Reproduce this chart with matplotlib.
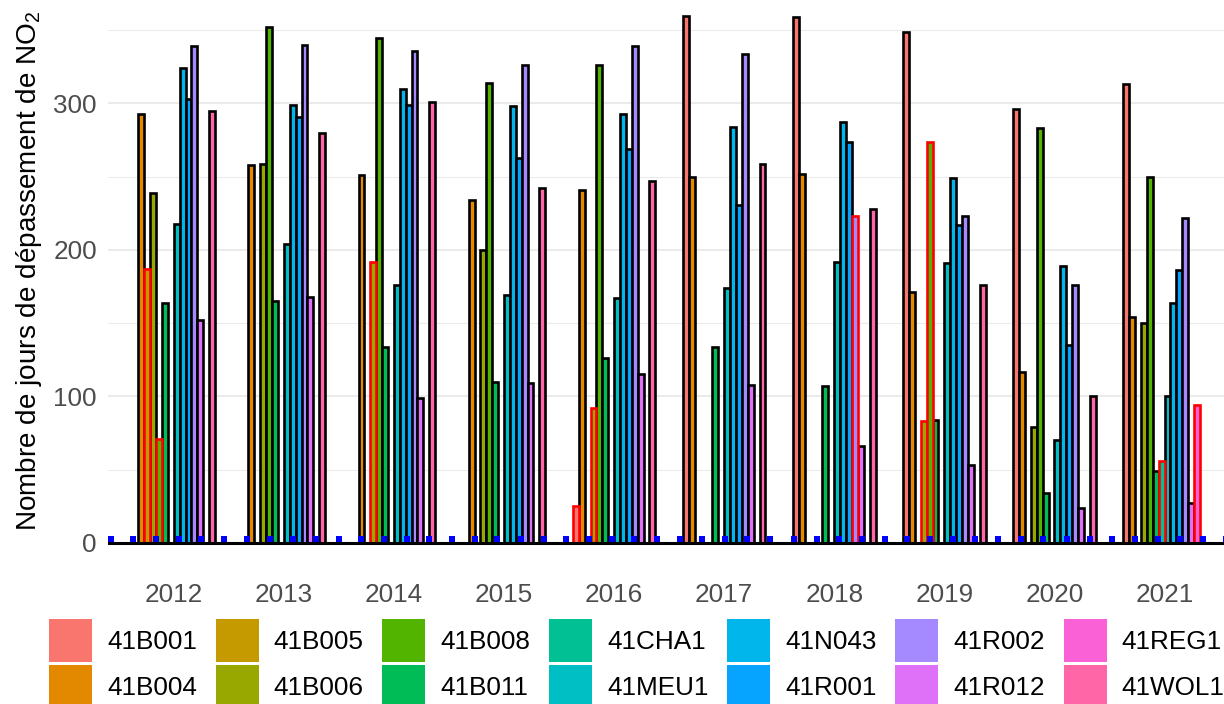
import matplotlib
matplotlib.use("Agg")
import matplotlib.pyplot as plt
from matplotlib.patches import Patch

plt.rcParams['font.family'] = ['Liberation Sans', 'DejaVu Sans']
plt.rcParams['mathtext.default'] = 'regular'

YEARS = [2012, 2013, 2014, 2015, 2016, 2017, 2018, 2019, 2020, 2021]
STATIONS = ['41B001', '41B004', '41B005', '41B006', '41B008', '41B011', '41CHA1',
            '41MEU1', '41N043', '41R001', '41R002', '41R012', '41REG1', '41WOL1']
# default ggplot hue palette for 14 groups
COLORS = ['#F8766D', '#E38900', '#C49A00', '#99A800', '#53B400', '#00BC56', '#00C094',
          '#00BFC4', '#00B6EB', '#06A4FF', '#A58AFF', '#DF70F8', '#FB61D7', '#FF66A8']

# days above the NO2 threshold, one value per year (None = no data)
b001 = [None, None, None, None, 25, 360, 359, 349, 296, 313]
b004 = [293, 258, 251, 234, 241, 250, 252, 171, 117, 154]
b005 = [187, None, None, None, None, None, None, None, None, None]
b006 = [239, 259, 192, 200, 92, None, None, 83, 79, 150]
b008 = [71, 352, 345, 314, 326, None, None, 274, 283, 250]
b011 = [164, 165, 134, 110, 126, 134, 107, 84, 34, 49]
cha1 = [None, None, None, None, None, None, None, None, None, 56]
meu1 = [218, 204, 176, 169, 167, 174, 192, 191, 70, 100]
n043 = [324, 299, 310, 298, 293, 284, 287, 249, 189, 164]
r001 = [303, 291, 299, 263, 269, 231, 274, 217, 135, 186]
r002 = [339, 340, 336, 326, 339, 334, 223, 223, 176, 222]
r012 = [152, 168, 99, 109, 115, 108, 66, 53, 24, 27]
reg1 = [None, None, None, None, None, None, None, None, None, 94]
wol1 = [295, 280, 301, 242, 247, 259, 228, 176, 100, None]
SERIES = [b001, b004, b005, b006, b008, b011, cha1, meu1, n043, r001, r002, r012, reg1, wol1]

# bars outlined in red
FLAGGED = [('41B005', 2012), ('41B008', 2012), ('41B006', 2014), ('41B001', 2016),
           ('41B006', 2016), ('41R002', 2018), ('41B006', 2019), ('41B008', 2019),
           ('41CHA1', 2021), ('41REG1', 2021)]

# blue markers along the baseline
DOT_X = [2011.43, 2011.63, 2011.84, 2012.05, 2012.25, 2012.46, 2012.67, 2012.87,
         2013.08, 2013.29, 2013.50, 2013.70, 2013.91, 2014.12, 2014.32, 2014.53,
         2014.74, 2014.94, 2015.15, 2015.36, 2015.56, 2015.77, 2015.98, 2016.18,
         2016.39, 2016.60, 2016.80, 2017.01, 2017.21, 2017.42, 2017.63, 2017.84,
         2018.04, 2018.25, 2018.46, 2018.66, 2018.87, 2019.08, 2019.28, 2019.49,
         2019.70, 2019.90, 2020.11, 2020.32, 2020.52, 2020.73, 2020.94, 2021.14,
         2021.35, 2021.56]
DOT_Y = 3

fig = plt.figure(figsize=(12.24, 7.04), dpi=100, facecolor='white')
ax = fig.add_axes([108/1224, (704-569.4)/704, 1 - 108/1224, 569.4/704])
ax.set_facecolor('white')

w = 0.75 / len(STATIONS)
mid = (len(STATIONS) - 1) / 2
for k, (st, col, vals) in enumerate(zip(STATIONS, COLORS, SERIES)):
    for yr, v in zip(YEARS, vals):
        if v is None:
            continue
        red = (st, yr) in FLAGGED
        ax.bar(yr + (k - mid) * w, v, width=w, color=col,
               edgecolor='#FF0000' if red else 'black', linewidth=1.9,
               zorder=3 if red else 2)

ax.axhline(0, color='black', linewidth=2.2, zorder=4)
ax.plot(DOT_X, [DOT_Y] * len(DOT_X), 's', color='#0000FF', markersize=3.8,
        markeredgewidth=0, zorder=5)

ax.set_xlim(2011.403, 2021.540)
ax.set_ylim(-18.05, 370.6)
ax.set_xticks(YEARS)
ax.set_xticklabels([str(y) for y in YEARS])
ax.set_yticks([0, 100, 200, 300])
ax.set_yticks([50, 150, 250, 350], minor=True)
ax.set_axisbelow(True)
ax.grid(which='major', axis='y', color='#EBEBEB', linewidth=1.5, zorder=0)
ax.grid(which='minor', axis='y', color='#EBEBEB', linewidth=0.75, zorder=0)
for s in ax.spines.values():
    s.set_visible(False)
ax.tick_params(axis='both', which='both', length=0, labelsize=18.8, labelcolor='#4D4D4D')
ax.tick_params(axis='x', pad=9.5)
ax.tick_params(axis='y', pad=8)

fig.text(29/1224, (704-271)/704, 'Nombre de jours de dépassement de NO$_2$',
         rotation=90, ha='center', va='center', fontsize=20.1, color='black')

handles = [Patch(facecolor=c, edgecolor='none') for c in COLORS]
fig.legend(handles, STATIONS, ncol=7, loc='upper left',
           bbox_to_anchor=(49/1224, (704-619)/704), frameon=False,
           fontsize=18.8, handlelength=1.65, handleheight=2.157,
           handletextpad=0.57, columnspacing=0.72, labelspacing=0.115,
           borderpad=0, borderaxespad=0)

fig.savefig('out.png', dpi=100, facecolor='white')
